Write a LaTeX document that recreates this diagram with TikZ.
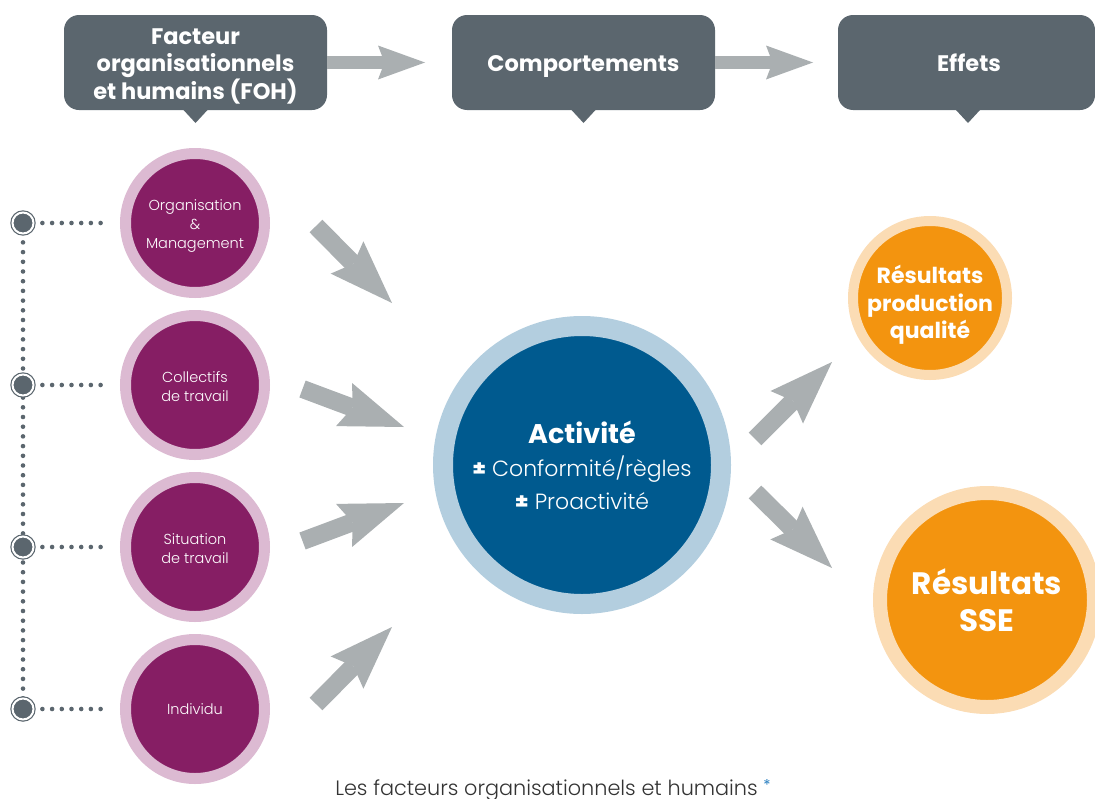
\documentclass[tikz,border=0pt]{standalone}
\usepackage{fontspec}
\setmainfont{Poppins}
\newfontfamily\lightfont{Poppins Light}
\usetikzlibrary{arrows.meta,calc}
\pgfdeclarelayer{background}
\pgfsetlayers{background,main}
\definecolor{hdr}{HTML}{5B666E}
\definecolor{agray}{HTML}{AAAFB1}
\definecolor{purp}{HTML}{861E64}
\definecolor{purpring}{HTML}{DCBAD2}
\definecolor{blueact}{HTML}{005A8F}
\definecolor{bluering}{HTML}{B3CEDF}
\definecolor{orng}{HTML}{F3940F}
\definecolor{orngring}{HTML}{FBDCB4}
\definecolor{capcol}{HTML}{333333}
\definecolor{astcol}{HTML}{2A7FC0}
\begin{document}
\begin{tikzpicture}[x=1pt,y=-1pt,
  hdrbox/.style={fill=hdr, rounded corners=15pt, minimum width=263pt, minimum height=95pt,
    inner sep=0pt, outer sep=0pt},
  hdrtext/.style={text=white, align=center, inner sep=0pt,
    font=\bfseries\fontsize{22.5}{27.5}\selectfont},
  hdrarrow/.style={draw=agray, line width=13pt,
    -{Stealth[length=47pt,width=34pt,inset=6.5pt,line width=0pt]}},
  fatarrow/.style={draw=agray, line width=18pt,
    -{Stealth[length=64pt,width=46pt,inset=9pt,line width=0pt]}},
  foh/.style={circle, fill=purp, draw=purpring, line width=11pt, minimum size=139pt,
    inner sep=0pt},
  fohtext/.style={text=white, align=center, inner sep=0pt,
    font=\lightfont\fontsize{14.5}{19}\selectfont},
  endpt/.style={circle, inner sep=0pt, minimum size=21pt, fill=hdr, draw=hdr,
    line width=1.2pt, double=white, double distance=2pt},
  dots/.style={draw=hdr, line width=4.6pt, line cap=round, dash pattern=on 0pt off 9.7pt}
]
\useasboundingbox (0,0) rectangle (1095,798);

% header boxes
\node[hdrbox] (h1) at (195.5,62.5) {};
\node[hdrbox] (h2) at (583.5,62.5) {};
\node[hdrbox, minimum width=257pt] (h3) at (966.5,62.5) {};
\node[hdrtext] (h1t) at (195.5,66) {Facteur\\organisationnels\\et humains (FOH)};
\node[hdrtext] (h2t) at (583.5,67) {Comportements};
\node[hdrtext] (h3t) at (969,63) {Effets};
\foreach \h/\dx in {h1/0,h2/0,h3/1.5}{
  \fill[hdr] ([xshift=\dx pt-12pt]\h.south) -- ([xshift=\dx pt,yshift=-13pt]\h.south)
     -- ([xshift=\dx pt+12pt]\h.south) -- cycle;
}
\draw[hdrarrow, shorten >=27pt] (h1.east) -- (h2.west);
\draw[hdrarrow, shorten >=25pt] (h2.east) -- (h3.west);

% FOH circles
\node[foh] (c1) at (195,223) {};
\node[foh] (c2) at (195,385) {};
\node[foh] (c3) at (195,547) {};
\node[foh] (c4) at (195,709) {};
\node[fohtext] (c1t) at (195,226) {Organisation\\\&\\Management};
\node[fohtext] (c2t) at (195,386.5) {Collectifs\\de travail};
\node[fohtext] (c3t) at (195,548.5) {Situation\\de travail};
\node[fohtext] (c4t) at (195,709) {Individu};

% dotted connectors
\foreach \i/\y in {1/223,2/385,3/547,4/709}{
  \coordinate (d\i) at (23,\y);
  \coordinate (t\i) at (100.6,\y);
}
\begin{pgfonlayer}{background}
\draw[dots] (d1) -- (d4);
\foreach \i in {1,2,3,4}{ \draw[dots] (d\i) -- (t\i); }
\end{pgfonlayer}
\foreach \i in {1,2,3,4}{ \node[endpt] (e\i) at (d\i) {}; }

% central activity
\node[circle, fill=blueact, draw=bluering, line width=20pt, minimum size=278pt, inner sep=0pt,
  text=white, align=center, font=\lightfont\fontsize{22}{32.5}\selectfont] (act) at (582,465)
  {{\normalfont\bfseries\fontsize{27}{30}\selectfont Activité}\\[1pt]{\normalfont\bfseries ±} Conformité/règles\\{\normalfont\bfseries ±} Proactivité};

% outcomes
\node[circle, fill=orng, draw=orngring, line width=10pt, minimum size=154pt, inner sep=0pt] (r1) at (930,298) {};
\node[text=white, align=center, inner sep=0pt, font=\bfseries\fontsize{22}{27.5}\selectfont]
  (r1t) at (930,305) {Résultats\\production\\qualité};
\node[circle, fill=orng, draw=orngring, line width=14pt, minimum size=214pt, inner sep=0pt,
  text=white, align=center, font=\bfseries\fontsize{31}{37}\selectfont] (r2) at (987,600)
  {Résultats\\SSE};

% fat arrows
\coordinate (a1s) at (316,226);   \coordinate (a1e) at (392,303);
\coordinate (a2s) at (302.5,389); \coordinate (a2e) at (404,427);
\coordinate (a3s) at (302.5,541); \coordinate (a3e) at (404,503);
\coordinate (a4s) at (316,704);   \coordinate (a4e) at (392,627);
\coordinate (a5s) at (755,439);   \coordinate (a5e) at (832,362);
\coordinate (a6s) at (755,492);   \coordinate (a6e) at (832,568);
\foreach \i in {1,...,6}{ \draw[fatarrow] (a\i s) -- (a\i e); }

% caption
\node[anchor=base, text=capcol, font=\lightfont\fontsize{20.8}{22}\selectfont, inner sep=0pt] (cap) at (553,795)
  {Les facteurs organisationnels et humains \raisebox{5pt}{\textcolor{astcol}{\normalfont\fontsize{15}{15}\selectfont*}}};
\end{tikzpicture}
\end{document}
